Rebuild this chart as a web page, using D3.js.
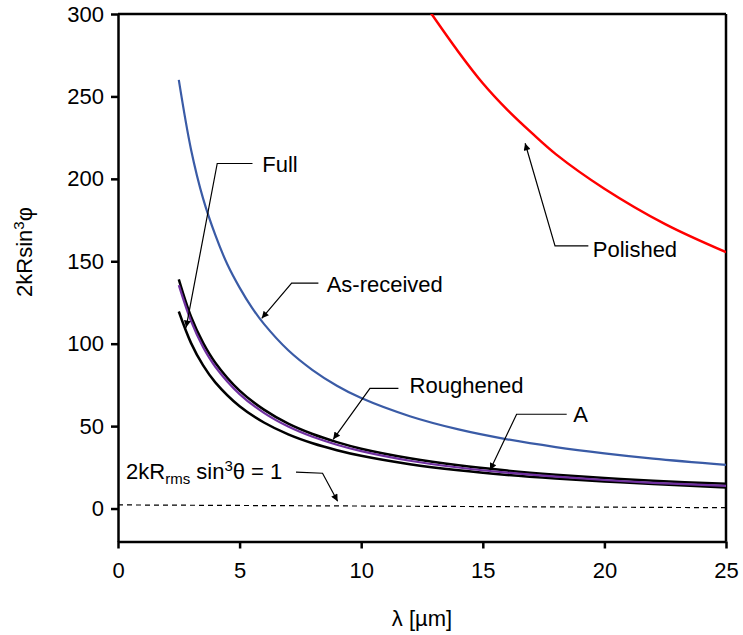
<!DOCTYPE html>
<html>
<head>
<meta charset="utf-8">
<script src="https://cdn.jsdelivr.net/npm/d3@7"></script>
<style>
  body { margin: 0; background: #fff; }
  svg { font-family: "Liberation Sans", Arial, sans-serif; }
  .axis text { font-size: 22px; fill: #000; }
  .axis path, .axis line { stroke: #000; stroke-width: 2.5; }
  .note { font-size: 22px; fill: #000; }
</style>
</head>
<body>
<svg id="chart" width="743" height="635"></svg>
<script>
// data (lambda in um, value of 2kRsin^3phi)
var asReceived = [[2.5,260],[3,218],[3.5,188],[4,166],[4.5,148],[5,134],[5.5,122],[6,112],[7,96],[8,84],[9,74.5],[10,67],[12,56],[14,48],[16,42],[18,37.3],[20,33.5],[22,30.3],[25,26.5]];
var polished   = [[12.8,302],[14,277],[15,258],[16,242],[17,228],[18,215],[20,194],[22.5,172.5],[25,155.5]];
var roughened  = [[2.5,139],[3,116.5],[3.5,100.5],[4,88.5],[5,71.5],[6,60],[7,51.5],[8,45.2],[9,40.3],[10,36.3],[12,30.5],[14,26.2],[16,23],[18,20.5],[20,18.5],[22,16.8],[25,15]];
var seriesA    = [[2.5,135.5],[3,113.8],[3.5,97.8],[4,86],[5,69.4],[6,58],[7,49.7],[8,43.5],[9,38.7],[10,34.8],[12,29],[14,24.9],[16,21.8],[18,19.3],[20,17.3],[22,15.6],[25,13.8]];
var full       = [[2.5,119.5],[3,100.5],[3.5,86.8],[4,76.5],[5,62],[6,52.2],[7,45],[8,39.6],[9,35.4],[10,32],[12,26.9],[14,23.2],[16,20.4],[18,18.2],[20,16.4],[22,14.9],[25,12.8]];
var threshold  = [[0,2.2],[25,0.5]];

var xTicks = [0, 5, 10, 15, 20, 25];
var yTicks = [0, 50, 100, 150, 200, 250, 300];

var svg = d3.select("#chart");
var plotLeft = 118, plotRight = 726, plotTop = 14, plotBottom = 541.5;

var xScale = d3.scaleLinear().domain([0, 25]).range([plotLeft, plotRight]);
var yScale = d3.scaleLinear().domain([-20, 300]).range([plotBottom, plotTop]);

var line = d3.line()
    .x(function(d) { return xScale(d[0]); })
    .y(function(d) { return yScale(d[1]); })
    .curve(d3.curveCatmullRom.alpha(0.5));

var defs = svg.append("defs");
defs.append("clipPath").attr("id", "plotclip")
  .append("rect")
  .attr("x", plotLeft).attr("y", plotTop)
  .attr("width", plotRight - plotLeft).attr("height", plotBottom - plotTop);

defs.append("marker")
  .attr("id", "arrow")
  .attr("viewBox", "0 0 10 10")
  .attr("refX", 10).attr("refY", 5)
  .attr("markerWidth", 9).attr("markerHeight", 7)
  .attr("markerUnits", "userSpaceOnUse")
  .attr("orient", "auto")
  .append("path")
  .attr("d", "M0,0 L10,5 L0,10 Z")
  .attr("fill", "#000");

// frame top + right
svg.append("line").attr("x1", plotLeft).attr("x2", plotRight).attr("y1", plotTop).attr("y2", plotTop)
  .attr("stroke", "#000").attr("stroke-width", 2.5);
svg.append("line").attr("x1", plotRight).attr("x2", plotRight).attr("y1", plotTop).attr("y2", plotBottom)
  .attr("stroke", "#000").attr("stroke-width", 2.5);

// axes
svg.append("g")
  .attr("class", "axis")
  .attr("transform", "translate(0," + plotBottom + ")")
  .call(d3.axisBottom(xScale).tickValues(xTicks).tickSize(7).tickSizeOuter(0).tickPadding(14));

svg.append("g")
  .attr("class", "axis")
  .attr("transform", "translate(" + plotLeft + ",0)")
  .call(d3.axisLeft(yScale).tickValues(yTicks).tickSize(7).tickSizeOuter(0).tickPadding(7));

// curves
var plot = svg.append("g").attr("clip-path", "url(#plotclip)");

plot.append("path").datum(threshold).attr("d", line)
  .attr("fill", "none").attr("stroke", "#000").attr("stroke-width", 1.2)
  .attr("stroke-dasharray", "5,4");

plot.append("path").datum(asReceived).attr("d", line)
  .attr("fill", "none").attr("stroke", "#3a5ba6").attr("stroke-width", 2.2);

plot.append("path").datum(polished).attr("d", line)
  .attr("fill", "none").attr("stroke", "#ff0000").attr("stroke-width", 2.5);

plot.append("path").datum(full).attr("d", line)
  .attr("fill", "none").attr("stroke", "#000").attr("stroke-width", 2.5);

plot.append("path").datum(roughened).attr("d", line)
  .attr("fill", "none").attr("stroke", "#000").attr("stroke-width", 2.5);

plot.append("path").datum(seriesA).attr("d", line)
  .attr("fill", "none").attr("stroke", "#7030a0").attr("stroke-width", 2.2);

// annotations (positions in data units)
var notes = [
  { text: "Full",        at: [5.93, 204.4], path: [[5.53,209.3],[4.08,209.3],[2.80,109.8]] },
  { text: "As-received", at: [8.58, 131.6], path: [[8.24,136.7],[7.14,136.7],[5.91,115.4]] },
  { text: "Roughened",   at: [11.99, 69.9], path: [[11.53,72.9],[10.36,72.9],[8.85,42.0]] },
  { text: "A",           at: [18.72, 52.7], path: [[18.45,57.2],[16.39,57.2],[15.30,23.4]] },
  { text: "Polished",    at: [19.52, 152.8], path: [[19.34,159.3],[17.97,159.3],[16.74,221.6]] },
  { text: null,          at: [0.33, 17.7], path: [[7.32,22.1],[8.41,21.4],[9.03,4.4]] }
];

var arrowLine = d3.line()
  .x(function(d) { return xScale(d[0]); })
  .y(function(d) { return yScale(d[1]); });

notes.forEach(function(n) {
  svg.append("path").datum(n.path).attr("d", arrowLine)
    .attr("fill", "none").attr("stroke", "#000").attr("stroke-width", 1.2)
    .attr("marker-end", "url(#arrow)");
  if (n.text) {
    svg.append("text").attr("class", "note")
      .attr("x", xScale(n.at[0])).attr("y", yScale(n.at[1]))
      .text(n.text);
  }
});

// 2kRrms sin^3 theta = 1
var th = svg.append("text").attr("class", "note")
  .attr("x", xScale(notes[5].at[0])).attr("y", yScale(notes[5].at[1]));
th.append("tspan").text("2kR");
th.append("tspan").attr("font-size", "15px").attr("dy", 5).text("rms");
th.append("tspan").attr("dy", -5).text(" sin");
th.append("tspan").attr("font-size", "15px").attr("dy", -8).text("3");
th.append("tspan").attr("dy", 8).text("θ = 1");

// axis labels
svg.append("text").attr("class", "note")
  .attr("x", (plotLeft + plotRight) / 2).attr("y", 626)
  .attr("text-anchor", "middle")
  .text("λ [µm]");

var yl = svg.append("text").attr("class", "note")
  .attr("transform", "translate(32,252) rotate(-90)")
  .attr("text-anchor", "middle");
yl.append("tspan").text("2kRsin");
yl.append("tspan").attr("font-size", "15px").attr("dy", -8).text("3");
yl.append("tspan").attr("dy", 8).text("φ");
</script>
</body>
</html>
